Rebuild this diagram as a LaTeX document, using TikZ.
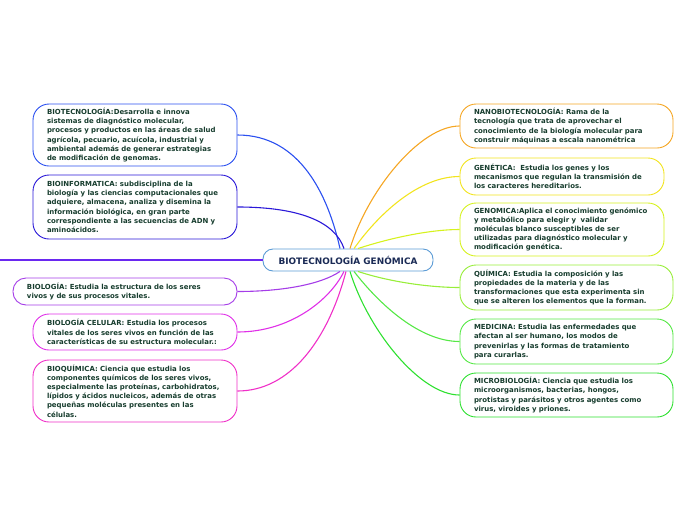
\documentclass[tikz,border=0pt]{standalone}
\usepackage{fontspec}
\setmainfont{DejaVu Sans}
\definecolor{txt}{HTML}{173D2E}
\definecolor{navy}{HTML}{1A2A55}
\definecolor{cblue}{HTML}{5B9BD5}
\definecolor{c1}{HTML}{2B50F0}
\definecolor{c2}{HTML}{2A18D8}
\definecolor{c3}{HTML}{6A28F0}
\definecolor{c4}{HTML}{A53DE8}
\definecolor{c5}{HTML}{E030E8}
\definecolor{c6}{HTML}{F030C8}
\definecolor{r1}{HTML}{F5A623}
\definecolor{r2}{HTML}{F2E41E}
\definecolor{r3}{HTML}{D6F21E}
\definecolor{r4}{HTML}{98EE3A}
\definecolor{r5}{HTML}{55E845}
\definecolor{r6}{HTML}{2EE030}
\tikzset{
  topic/.style={draw, line width=0.9pt, fill=white, rounded corners=16pt, align=left,
    inner xsep=0pt, inner ysep=0pt, text=txt,
    font=\fontsize{6.95}{9.2}\selectfont\bfseries},
  link/.style={line width=1.1pt},
}
\begin{document}
\begin{tikzpicture}[x=1pt,y=-1pt]
\useasboundingbox (0,0) rectangle (696,520);
% central
\node[draw=cblue, line width=0.9pt, rounded corners=10pt, minimum width=170pt, minimum height=22pt,
  text=navy, font=\fontsize{8.9}{10}\selectfont\bfseries] (c) at (348,260) {BIOTECNOLOGÍA GENÓMICA};
\coordinate (free) at (0,260);
% left nodes
\node[topic, draw=c1, minimum width=204pt, minimum height=62pt, text width=176pt] (a1) at (135,135)
 {BIOTECNOLOGÍA:Desarrolla e innova\\sistemas de diagnóstico molecular,\\procesos y productos en las áreas de salud\\agrícola, pecuario, acuícola, industrial y\\ambiental además de generar estrategias\\de modificación de genomas.};
\node[topic, draw=c2, minimum width=204pt, minimum height=64pt, text width=176pt] (a2) at (135,207)
 {BIOINFORMATICA: subdisciplina de la\\biología y las ciencias computacionales que\\adquiere, almacena, analiza y disemina la\\información biológica, en gran parte\\correspondiente a las secuencias de ADN y\\aminoácidos.};
\node[topic, draw=c4, rounded corners=13pt, minimum width=224pt, minimum height=27pt, text width=196pt] (a4) at (125,291.5)
 {BIOLOGÍA: Estudia la estructura de los seres\\vivos y de sus procesos vitales.};
\node[topic, draw=c5, minimum width=204pt, minimum height=36pt, text width=176pt] (a5) at (135,332)
 {BIOLOGÍA CELULAR: Estudia los procesos\\vitales de los seres vivos en función de las\\características de su estructura molecular.:};
\node[topic, draw=c6, minimum width=204pt, minimum height=62pt, text width=176pt] (a6) at (135,391)
 {BIOQUÍMICA: Ciencia que estudia los\\componentes químicos de los seres vivos,\\especialmente las proteínas, carbohidratos,\\lípidos y ácidos nucleicos, además de otras\\pequeñas moléculas presentes en las\\células.};
% right nodes
\node[topic, draw=r1, minimum width=213pt, minimum height=44pt, text width=185pt] (b1) at (566.5,126)
 {NANOBIOTECNOLOGÍA: Rama de la\\tecnología que trata de aprovechar el\\conocimiento de la biología molecular para\\construir máquinas a escala nanométrica};
\node[topic, draw=r2, minimum width=204pt, minimum height=37pt, text width=176pt] (b2) at (562,176.5)
 {GENÉTICA:\ \ Estudia los genes y los\\mecanismos que regulan la transmisión de\\los caracteres hereditarios.};
\node[topic, draw=r3, minimum width=204pt, minimum height=53pt, text width=176pt] (b3) at (562,229.5)
 {GENOMICA:Aplica el conocimiento genómico\\y metabólico para elegir y\ \ validar\\moléculas blanco susceptibles de ser\\utilizadas para diagnóstico molecular y\\modificación genética.};
\node[topic, draw=r4, minimum width=213pt, minimum height=45pt, text width=185pt] (b4) at (566.5,287.5)
 {QUÍMICA: Estudia la composición y las\\propiedades de la materia y de las\\transformaciones que esta experimenta sin\\que se alteren los elementos que la forman.};
\node[topic, draw=r5, minimum width=213pt, minimum height=45pt, text width=185pt] (b5) at (566.5,341.5)
 {MEDICINA: Estudia las enfermedades que\\afectan al ser humano, los modos de\\prevenirlas y las formas de tratamiento\\para curarlas.};
\node[topic, draw=r6, minimum width=213pt, minimum height=44pt, text width=185pt] (b6) at (566.5,395)
 {MICROBIOLOGÍA: Ciencia que estudia los\\microorganismos, bacterias, hongos,\\protistas y parásitos y otros agentes como\\virus, viroides y priones.};
% connectors
\draw[link, c1] ([xshift=-8pt]c.north) .. controls (328,195) and (300,135) .. (a1.east);
\draw[link, c2] ([xshift=-4pt]c.north) .. controls (335,222) and (300,207) .. (a2.east);
\draw[link, c3] (c.west) -- (free);
\draw[link, c4] ([xshift=-8pt]c.south) .. controls (320,285) and (280,291.5) .. (a4.east);
\draw[link, c5] ([xshift=-4pt]c.south) .. controls (330,300) and (290,332) .. (a5.east);
\draw[link, c6] ([xshift=-2pt]c.south) .. controls (328,340) and (290,391) .. (a6.east);
\draw[link, r1] ([xshift=2pt]c.north) .. controls (368,190) and (420,126) .. (b1.west);
\draw[link, r2] ([xshift=6pt]c.north) .. controls (380,212) and (420,176.5) .. (b2.west);
\draw[link, r3] ([xshift=10pt]c.north) .. controls (390,238) and (430,229.5) .. (b3.west);
\draw[link, r4] ([xshift=10pt]c.south) .. controls (390,282) and (430,287.5) .. (b4.west);
\draw[link, r5] ([xshift=6pt]c.south) .. controls (380,305) and (420,341.5) .. (b5.west);
\draw[link, r6] ([xshift=2pt]c.south) .. controls (368,330) and (420,395) .. (b6.west);
\end{tikzpicture}
\end{document}
